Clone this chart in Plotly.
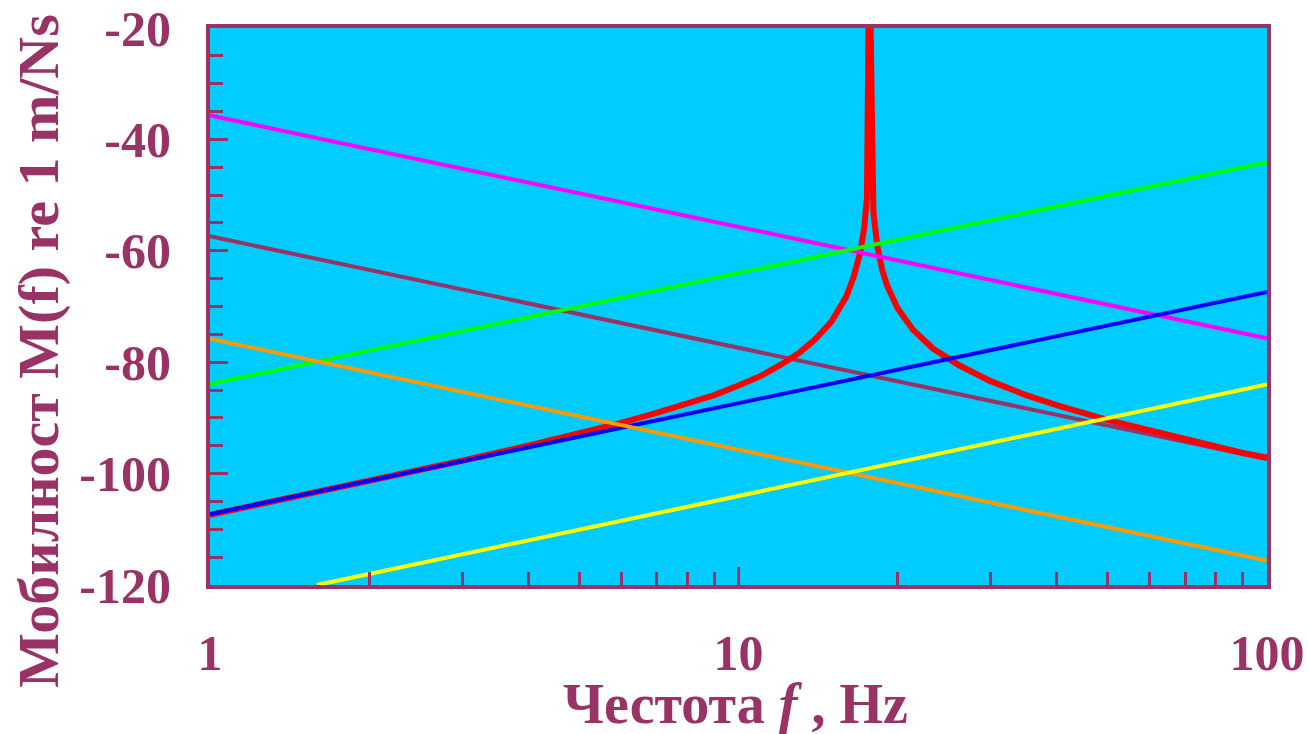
import plotly.graph_objects as go

# ---- data ----
freq_ends = [1, 100]
mass_hi = [-35.7, -75.7]        # magenta
mass_mid = [-57.4, -97.4]       # maroon
mass_lo = [-75.8, -115.6]       # orange
stiff_hi = [-83.9, -44.1]       # green
stiff_mid = [-107.3, -67.4]     # blue
yellow_freq = [1.594, 100]
stiff_lo = [-120.0, -84.0]      # yellow

res_freq = [1, 1.5, 2, 3, 4, 5, 6, 7, 8, 9, 10, 11, 12, 13, 14, 15, 16, 16.5,
            17, 17.3, 17.5, 17.62, 17.78, 18.0, 18.3, 18.7, 19.1, 20, 21.4,
            23.3, 26.2, 30, 35, 40, 50, 60, 70, 80, 90, 100]
res_db = [-107.4, -103.9, -101.4, -97.7, -95.0, -92.8, -90.9, -89.1, -87.5,
          -85.9, -84.2, -82.5, -80.5, -78.4, -75.8, -72.7, -68.2, -64.8,
          -60.3, -55.7, -50.5, -20.0, -20.0, -53.1, -59.0, -63.4, -66.2,
          -70.3, -74.2, -77.5, -80.6, -83.4, -85.9, -87.7, -90.4, -92.3,
          -93.9, -95.2, -96.3, -97.1]

x_ticks = [1, 10, 100]
x_ticktext = ["1", "10", "100"]
y_ticks = [-120, -100, -80, -60, -40, -20]
y_ticktext = ["-120", "-100", "-80", "-60", "-40", "-20"]

AX = "#993366"
FONT = "Liberation Serif"

fig = go.Figure()

def add(x, y, color, width):
    fig.add_trace(go.Scatter(x=x, y=y, mode="lines",
                             line=dict(color=color, width=width),
                             showlegend=False, hoverinfo="skip"))

add(freq_ends, mass_mid, "#993366", 4)
add(res_freq, res_db, "#FF0000", 6)
add(freq_ends, mass_hi, "#FF00FF", 4)
add(freq_ends, stiff_hi, "#00FF00", 4)
add(freq_ends, stiff_mid, "#0000FF", 4)
add(freq_ends, mass_lo, "#FF9900", 4)
add(yellow_freq, stiff_lo, "#FFFF00", 4)

fig.update_layout(
    width=1309, height=734,
    margin=dict(l=210, r=42, t=28, b=149),
    paper_bgcolor="white",
    plot_bgcolor="#00CCFF",
    font=dict(family=FONT, color=AX),
    xaxis=dict(
        type="log", range=[0, 2], automargin=False,
        tickvals=x_ticks, ticktext=x_ticktext,
        ticks="inside", ticklen=18, tickwidth=3, tickcolor=AX,
        minor=dict(ticks="inside", ticklen=13, tickwidth=3, tickcolor=AX,
                   dtick="D1", showgrid=False),
        showline=True, linewidth=4, linecolor=AX, mirror=True,
        showgrid=False, zeroline=False,
        tickfont=dict(family=FONT, size=50, color=AX, weight="bold"),
        ticklabelstandoff=21,
    ),
    yaxis=dict(
        range=[-120, -20], automargin=False,
        tickvals=y_ticks, ticktext=y_ticktext,
        ticks="inside", ticklen=18, tickwidth=3, tickcolor=AX,
        minor=dict(ticks="inside", ticklen=13, tickwidth=3, tickcolor=AX,
                   dtick=5, showgrid=False),
        showline=True, linewidth=4, linecolor=AX, mirror=True,
        showgrid=False, zeroline=False,
        tickfont=dict(family=FONT, size=50, color=AX, weight="bold"),
        ticklabelstandoff=25,
    ),
    annotations=[
        dict(text="Честота <i>f</i> , Hz", xref="paper", yref="paper",
             x=0.497, y=-0.213, xanchor="center", yanchor="middle",
             showarrow=False,
             font=dict(family=FONT, size=56, color=AX, weight="bold")),
        dict(text="Мобилност M(f) re 1 m/Ns", xref="paper", yref="paper",
             x=-0.163, y=0.42, xanchor="center", yanchor="middle",
             textangle=-90, showarrow=False,
             font=dict(family=FONT, size=58, color=AX, weight="bold")),
    ],
)

fig.write_html("out.html",
               config={"displayModeBar": False},
               post_script="document.body.style.margin='0';"
                           "document.body.style.overflow='hidden';")
